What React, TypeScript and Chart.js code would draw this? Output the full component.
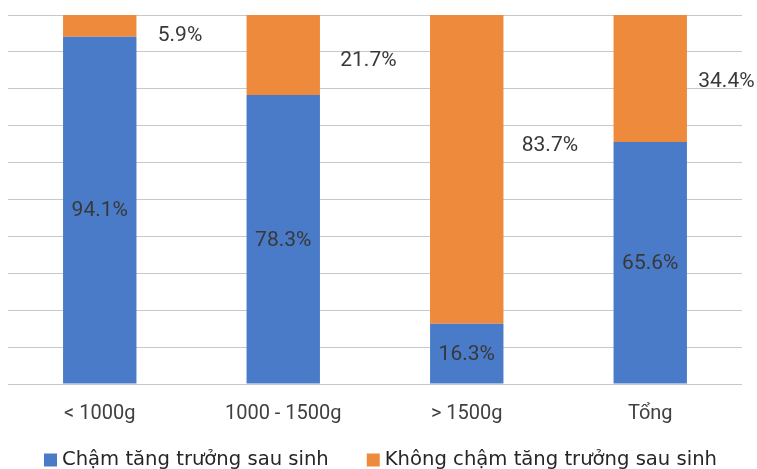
import React, { useEffect, useRef } from "react";
import { Chart, registerables } from "chart.js";

Chart.register(...registerables);

const categories = ["< 1000g", "1000 - 1500g", "> 1500g", "Tổng"];
const chamValues = [94.1, 78.3, 16.3, 65.6];
const khongChamValues = [5.9, 21.7, 83.7, 34.4];
const seriesNames = ["Chậm tăng trưởng sau sinh", "Không chậm tăng trưởng sau sinh"];
const seriesColors = ["#4A7BC8", "#EE8A3B"];
const yMin = 0;
const yMax = 100;
const yStep = 10;

// where the orange series labels sit (value-axis anchor and offset right of bar centre)
const orangeLabelAt = [94.7, 87.8, 64.8, 82.3];
const orangeLabelDx = [58, 57, 55, 48];

const fmt = (v: number) => v.toFixed(1) + "%";

const labelPlugin = {
  id: "barLabels",
  afterDatasetsDraw(chart: any) {
    const ctx = chart.ctx;
    const ys = chart.scales.y;
    ctx.save();
    ctx.font = "21px Roboto";
    ctx.fillStyle = "#383838";
    ctx.textBaseline = "middle";
    const m0 = chart.getDatasetMeta(0);
    m0.data.forEach((el: any, i: number) => {
      const p = el.getProps(["x", "y", "base"], true);
      ctx.textAlign = "center";
      ctx.fillText(fmt(chamValues[i]), p.x, (p.y + p.base) / 2 + 1);
    });
    const m1 = chart.getDatasetMeta(1);
    m1.data.forEach((el: any, i: number) => {
      const p = el.getProps(["x"], true);
      ctx.textAlign = "left";
      ctx.fillText(fmt(khongChamValues[i]), p.x + orangeLabelDx[i], ys.getPixelForValue(orangeLabelAt[i]) + 1);
    });
    ctx.restore();
  },
};

const legendPlugin = {
  id: "customLegend",
  afterDraw(chart: any) {
    const ctx = chart.ctx;
    ctx.save();
    ctx.font = "19.6px 'DejaVu Sans'";
    const box = 13;
    const gap = 5;
    const itemGap = 38;
    const items = chart.data.datasets.map((ds: any) => ({
      text: ds.label as string,
      color: ds.backgroundColor as string,
      w: ctx.measureText(ds.label).width as number,
    }));
    let x = 44;
    const cy = 460;
    ctx.textBaseline = "middle";
    ctx.textAlign = "left";
    items.forEach((it: any) => {
      ctx.fillStyle = it.color;
      ctx.fillRect(x, cy - box / 2, box, box);
      x += box + gap;
      ctx.fillStyle = "#262626";
      ctx.fillText(it.text, x, cy);
      x += it.w + itemGap;
    });
    ctx.restore();
  },
};

export default function App() {
  const ref = useRef<HTMLCanvasElement | null>(null);
  useEffect(() => {
    if (!ref.current) return;
    const chart = new Chart(ref.current, {
      type: "bar",
      data: {
        labels: categories,
        datasets: [
          {
            label: seriesNames[0],
            data: chamValues,
            backgroundColor: seriesColors[0],
            barPercentage: 0.4,
            categoryPercentage: 1,
          },
          {
            label: seriesNames[1],
            data: khongChamValues,
            backgroundColor: seriesColors[1],
            barPercentage: 0.4,
            categoryPercentage: 1,
          },
        ],
      },
      options: {
        responsive: false,
        animation: false,
        devicePixelRatio: 1,
        layout: { padding: { left: 8, right: 15, top: 15, bottom: 25 } },
        plugins: {
          legend: { display: false },
          tooltip: { enabled: false },
          title: { display: false },
        },
        scales: {
          x: {
            stacked: true,
            grid: { display: false, drawTicks: false },
            border: { display: false },
            ticks: {
              color: "#404040",
              font: { family: "Roboto", size: 20 },
              padding: 18,
              maxRotation: 0,
            },
          },
          y: {
            stacked: true,
            min: yMin,
            max: yMax,
            ticks: { display: false, stepSize: yStep },
            grid: { color: "#c8c8c8", lineWidth: 1, drawTicks: false },
            border: { display: false },
          },
        },
      },
      plugins: [labelPlugin, legendPlugin],
    });
    return () => chart.destroy();
  }, []);
  return (
    <div style={{ position: "absolute", left: 0, top: 0, width: 757, height: 469, background: "#fff" }}>
      <canvas ref={ref} width={757} height={469} style={{ width: 757, height: 469, display: "block" }} />
    </div>
  );
}
